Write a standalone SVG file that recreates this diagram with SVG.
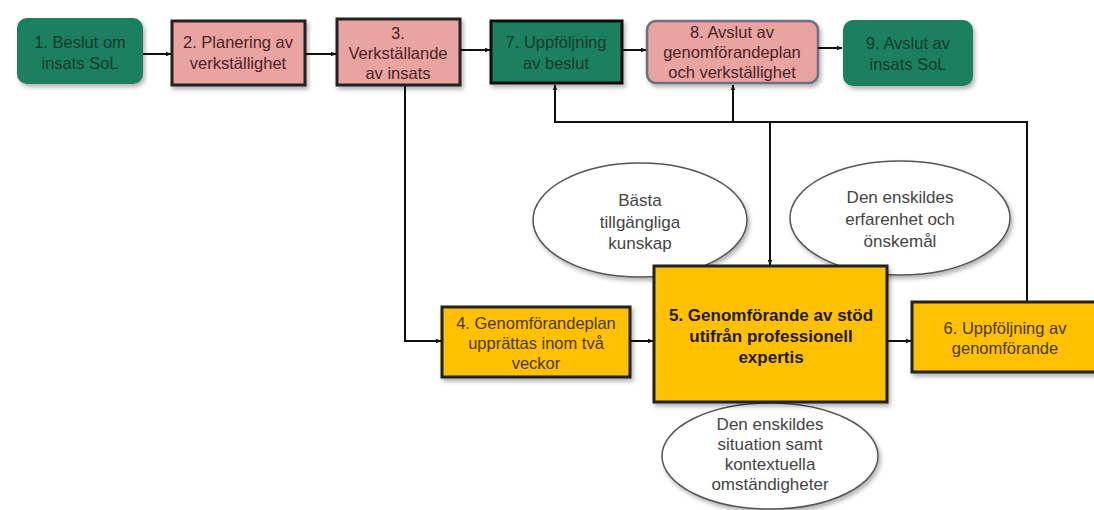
<svg xmlns="http://www.w3.org/2000/svg" width="1094" height="510" viewBox="0 0 1094 510">
<defs>
<marker id="ah" viewBox="0 0 10 10" refX="9" refY="5" markerWidth="6" markerHeight="6" orient="auto-start-reverse" markerUnits="userSpaceOnUse">
<path d="M0,1 L10,5 L0,9 z" fill="#111"/>
</marker>
<filter id="sh" x="-10%" y="-10%" width="125%" height="130%">
<feDropShadow dx="2" dy="3" stdDeviation="2" flood-color="#000" flood-opacity="0.3"/>
</filter>
<style>
text{font-family:"Liberation Sans",Arial,sans-serif;font-size:16.5px;text-anchor:middle;}
.g{fill:#1b7f60;}
.gb{fill:#1b7f60;stroke:#111;stroke-width:3;}
.p{fill:#e9a3a1;stroke:#222;stroke-width:3;}
.p8{fill:#e9a3a1;stroke:#6a7080;stroke-width:2.5;}
.y{fill:#ffc000;stroke:#222;stroke-width:3;}
.e{fill:#fff;stroke:#555;stroke-width:1.5;}
.tg{fill:#173a2c;}
.tp{fill:#4a2424;}
.ty{fill:#4a3800;}
.tb{fill:#221a00;font-weight:bold;font-size:17px;}
.te{fill:#444;font-size:17px;}
.c{fill:none;stroke:#111;stroke-width:2;}
</style>
</defs>
<rect width="1094" height="510" fill="#fff"/>

<g id="n1"><rect class="g" x="17" y="18" width="126" height="66" rx="10" filter="url(#sh)"/>
<text class="tg" x="80" y="48">1. Beslut om</text><text class="tg" x="80" y="69">insats SoL</text></g>
<g id="n2"><rect class="p" x="172" y="21" width="133" height="64" filter="url(#sh)"/>
<text class="tp" x="238" y="48">2. Planering av</text><text class="tp" x="238" y="69">verkställighet</text></g>
<g id="n3"><rect class="p" x="337" y="19" width="123" height="66" filter="url(#sh)"/>
<text class="tp" x="398" y="39">3.</text><text class="tp" x="398" y="59">Verkställande</text><text class="tp" x="398" y="79">av insats</text></g>
<g id="n7"><rect class="gb" x="491" y="21" width="131" height="62" filter="url(#sh)"/>
<text class="tg" x="556" y="48">7. Uppföljning</text><text class="tg" x="556" y="69">av beslut</text></g>
<g id="n8"><rect class="p8" x="647" y="21" width="171" height="62" rx="9" filter="url(#sh)"/>
<text class="tp" x="732" y="38">8. Avslut av</text><text class="tp" x="732" y="58">genomförandeplan</text><text class="tp" x="732" y="78">och verkställighet</text></g>
<g id="n9"><rect class="g" x="843" y="20" width="130" height="66" rx="10" filter="url(#sh)"/>
<text class="tg" x="908" y="49">9. Avslut av</text><text class="tg" x="908" y="70">insats SoL</text></g>

<g id="eb"><ellipse class="e" cx="640" cy="220" rx="107" ry="57" filter="url(#sh)"/>
<text class="te" x="640" y="206">Bästa</text><text class="te" x="640" y="228">tillgängliga</text><text class="te" x="640" y="249">kunskap</text></g>
<g id="ee"><ellipse class="e" cx="900" cy="218" rx="110" ry="57" filter="url(#sh)"/>
<text class="te" x="900" y="203">Den enskildes</text><text class="te" x="900" y="225">erfarenhet och</text><text class="te" x="900" y="247">önskemål</text></g>
<g id="es"><ellipse class="e" cx="770" cy="456" rx="108" ry="53" filter="url(#sh)"/>
<text class="te" x="770" y="430">Den enskildes</text><text class="te" x="770" y="450">situation samt</text><text class="te" x="770" y="470">kontextuella</text><text class="te" x="770" y="490">omständigheter</text></g>

<g id="n4"><rect class="y" x="442" y="307" width="188" height="70" filter="url(#sh)"/>
<text class="ty" x="536" y="329">4. Genomförandeplan</text><text class="ty" x="536" y="349">upprättas inom två</text><text class="ty" x="536" y="369">veckor</text></g>
<g id="n5"><rect class="y" x="654" y="266" width="233" height="136" filter="url(#sh)"/>
<text class="tb" x="771" y="321">5. Genomförande av stöd</text><text class="tb" x="771" y="342">utifrån professionell</text><text class="tb" x="771" y="363">expertis</text></g>
<g id="n6"><rect class="y" x="912" y="302" width="186" height="70" filter="url(#sh)"/>
<text class="ty" x="1005" y="334">6. Uppföljning av</text><text class="ty" x="1005" y="354">genomförande</text></g>

<g id="connectors">
<line class="c" x1="143" y1="54" x2="171" y2="54" marker-end="url(#ah)"/>
<line class="c" x1="305" y1="54" x2="336" y2="54" marker-end="url(#ah)"/>
<line class="c" x1="460" y1="50" x2="490" y2="50" marker-end="url(#ah)"/>
<line class="c" x1="622" y1="50" x2="646" y2="50" marker-end="url(#ah)"/>
<line class="c" x1="818" y1="48" x2="842" y2="48" marker-end="url(#ah)"/>
<polyline class="c" points="405,86 405,341 441,341" marker-end="url(#ah)"/>
<line class="c" x1="630" y1="341" x2="653" y2="341" marker-end="url(#ah)"/>
<line class="c" x1="887" y1="341" x2="911" y2="341" marker-end="url(#ah)"/>
<polyline class="c" points="1027,301 1027,122 555,122 555,85" marker-end="url(#ah)"/>
<line class="c" x1="733" y1="122" x2="733" y2="85" marker-end="url(#ah)"/>
<line class="c" x1="770" y1="122" x2="770" y2="265" marker-end="url(#ah)"/>
</g>
</svg>
